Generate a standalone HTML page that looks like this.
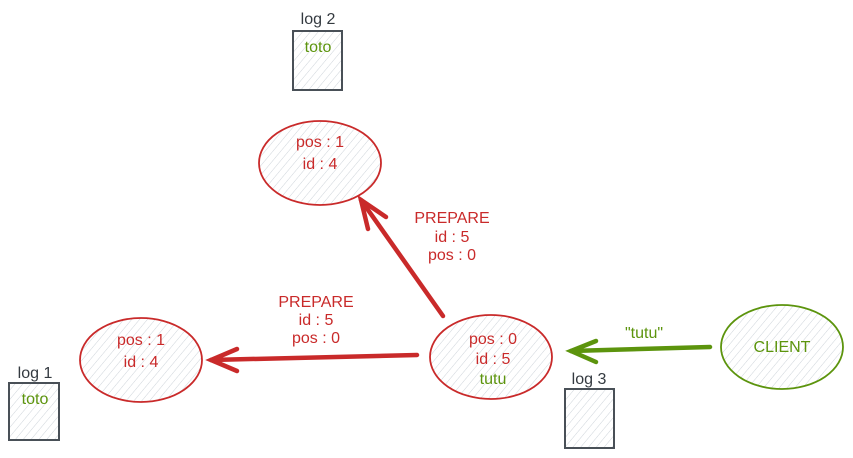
<!DOCTYPE html>
<html><head><meta charset="utf-8"><style>
html,body{margin:0;padding:0;background:#fff;}
svg{display:block;}
text{font-family:"Liberation Sans",sans-serif;font-size:16px;text-anchor:middle;}
</style></head><body>
<svg width="853" height="458" viewBox="0 0 853 458" xmlns="http://www.w3.org/2000/svg">
<defs>
<pattern id="h" patternUnits="userSpaceOnUse" width="6" height="6" patternTransform="rotate(40)">
<line x1="0" y1="0" x2="0" y2="6" stroke="#ced4da" stroke-width="1"/>
</pattern>
</defs>
<rect x="293" y="31" width="49" height="59" fill="url(#h)" stroke="#495057" stroke-width="2"/>
<rect x="9" y="383" width="50" height="57" fill="url(#h)" stroke="#495057" stroke-width="2"/>
<rect x="565" y="389" width="49" height="59" fill="url(#h)" stroke="#495057" stroke-width="2"/>
<text x="318" y="24" fill="#343a40">log 2</text>
<text x="35" y="378" fill="#343a40">log 1</text>
<text x="589" y="384" fill="#343a40">log 3</text>
<text x="318" y="52" fill="#5c940d">toto</text>
<text x="35" y="404" fill="#5c940d">toto</text>
<ellipse cx="320" cy="163" rx="61" ry="42" fill="url(#h)" stroke="#c92a2a" stroke-width="1.8"/>
<ellipse cx="141" cy="360" rx="61" ry="42" fill="url(#h)" stroke="#c92a2a" stroke-width="1.8"/>
<ellipse cx="491" cy="357" rx="61" ry="42" fill="url(#h)" stroke="#c92a2a" stroke-width="1.8"/>
<ellipse cx="782" cy="347" rx="61" ry="42" fill="url(#h)" stroke="#5c940d" stroke-width="1.8"/>
<text x="320" y="147" fill="#c92a2a">pos : 1</text>
<text x="320" y="169" fill="#c92a2a">id : 4</text>
<text x="141" y="345" fill="#c92a2a">pos : 1</text>
<text x="141" y="367" fill="#c92a2a">id : 4</text>
<text x="493" y="344" fill="#c92a2a">pos : 0</text>
<text x="493" y="364" fill="#c92a2a">id : 5</text>
<text x="493" y="384" fill="#5c940d">tutu</text>
<text x="782" y="352" fill="#5c940d">CLIENT</text>
<g stroke="#c92a2a" stroke-width="4.5" fill="none" stroke-linecap="round">
<line x1="443" y1="316" x2="361" y2="200"/>
<polyline points="368,229 361,200 386,217"/>
<line x1="417" y1="355" x2="211" y2="360"/>
<polyline points="237,349 211,360 237,371"/>
</g>
<g stroke="#5c940d" stroke-width="4.5" fill="none" stroke-linecap="round">
<line x1="710" y1="347" x2="571" y2="351"/>
<polyline points="596,341 571,351 596,362"/>
</g>
<text x="452" y="223" fill="#c92a2a">PREPARE</text>
<text x="452" y="242" fill="#c92a2a">id : 5</text>
<text x="452" y="260" fill="#c92a2a">pos : 0</text>
<text x="316" y="307" fill="#c92a2a">PREPARE</text>
<text x="316" y="325" fill="#c92a2a">id : 5</text>
<text x="316" y="343" fill="#c92a2a">pos : 0</text>
<text x="644" y="338" fill="#5c940d">"tutu"</text>
</svg>
</body></html>
